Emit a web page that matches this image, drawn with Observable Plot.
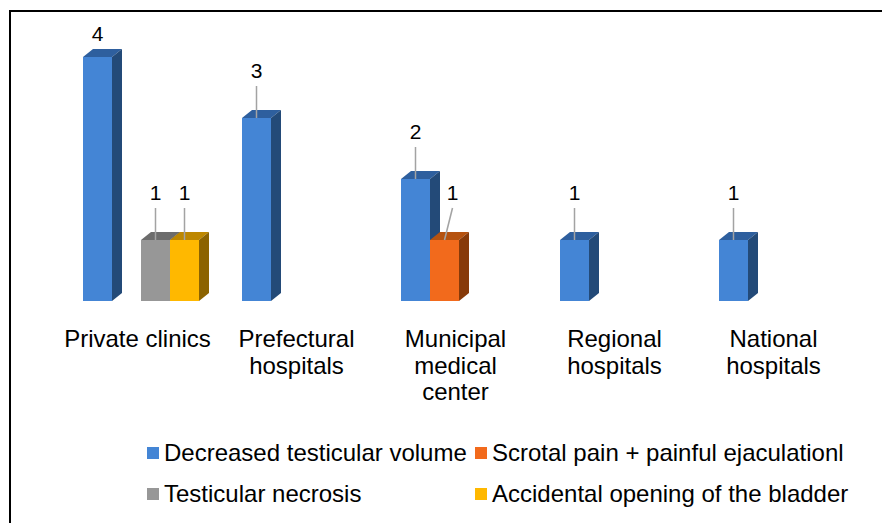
<!DOCTYPE html>
<html>
<head>
<meta charset="utf-8">
<script src="https://cdn.jsdelivr.net/npm/d3@7"></script>
<script src="https://cdn.jsdelivr.net/npm/@observablehq/plot@0.6"></script>
<style>
  html, body { margin: 0; padding: 0; background: #fff; overflow: hidden; }
  body { width: 882px; height: 523px; position: relative; font-family: "Liberation Sans", Arial, sans-serif; }
  #chart { position: absolute; left: 0; top: 0; }
  #frame { position: absolute; left: 9px; top: 10px; width: 1000px; height: 1000px;
           border-left: 2px solid #000; border-top: 2px solid #000; pointer-events: none; }
  .legend-item { position: absolute; display: flex; align-items: center; height: 30px;
                 font-size: 24px; line-height: 1; color: #000; white-space: nowrap; }
  .legend-swatch { width: 12px; height: 12px; margin-right: 5px; flex: none; }
</style>
</head>
<body>
<div id="chart"></div>
<div id="legend"></div>
<div id="frame"></div>
<script>
// Hospital categories and their axis labels (line breaks as shown under the bars)
const categories = ["Private clinics", "Prefectural hospitals", "Municipal medical center", "Regional hospitals", "National hospitals"];
const categoryLabels = ["Private clinics", "Prefectural\nhospitals", "Municipal\nmedical\ncenter", "Regional\nhospitals", "National\nhospitals"];

// Complication series
const series = ["Decreased testicular volume", "Scrotal pain + painful ejaculationl", "Testicular necrosis", "Accidental opening of the bladder"];

// Number of cases per category, one array per series
const decreasedVolume = [4, 3, 2, 1, 1];
const scrotalPain     = [0, 0, 1, 0, 0];
const necrosis        = [1, 0, 0, 0, 0];
const bladderOpening  = [1, 0, 0, 0, 0];
const seriesValues = [decreasedVolume, scrotalPain, necrosis, bladderOpening];

// Face colours for each series: front, top, side
const frontColors = ["#4485d5", "#f26a1c", "#979797", "#ffb800"];
const topColors   = ["#2e5f9e", "#b5520f", "#6c6c6c", "#bd8700"];
const sideColors  = ["#234a78", "#873a09", "#555555", "#8c6300"];

const yDomain = [0, 4];

// Long-format rows; empty cells produce no bar
const rows = categories.flatMap((category, ci) =>
  series.map((s, si) => ({category, series: s, value: seriesValues[si][ci]}))
).filter(d => d.value > 0);

const depthX = 10, depthY = 8;
const svgNS = "http://www.w3.org/2000/svg";

function polygon(points, fill) {
  const p = document.createElementNS(svgNS, "polygon");
  p.setAttribute("points", points.map(q => q.join(",")).join(" "));
  p.setAttribute("fill", fill);
  return p;
}

// Extrude each bar into a box (top and right faces) and add its value label
function bars3d(index, scales, values, dimensions, context, next) {
  const g = next(index, scales, values, dimensions, context);
  const rects = Array.from(g.querySelectorAll("rect"));
  const labelLayer = document.createElementNS(svgNS, "g");
  let prev = null;
  rects.forEach((rect, k) => {
    const d = rows[index[k]];
    const si = series.indexOf(d.series);
    const x0 = +rect.getAttribute("x"), w = +rect.getAttribute("width");
    const y0 = +rect.getAttribute("y"), h = +rect.getAttribute("height");
    const x1 = x0 + w, yb = y0 + h;
    const top = polygon([[x0, y0], [x0 + depthX, y0 - depthY], [x1 + depthX, y0 - depthY], [x1, y0]], topColors[si]);
    const side = polygon([[x1, y0], [x1 + depthX, y0 - depthY], [x1 + depthX, yb - depthY], [x1, yb]], sideColors[si]);
    rect.after(top, side);

    // a label next to a taller neighbour's side face is nudged right
    const cx = x0 + w / 2;
    const nudged = prev && Math.abs(prev.x1 - x0) < 0.5 && prev.y0 < y0 - depthY;
    const lx = nudged ? cx + 8 : cx;
    const baseline = Math.max(y0 - 40, 41);
    if (y0 - (baseline + 7) > 12) {
      const line = document.createElementNS(svgNS, "line");
      line.setAttribute("x1", lx); line.setAttribute("x2", cx);
      line.setAttribute("y1", baseline + 8); line.setAttribute("y2", y0);
      line.setAttribute("stroke", "#a3a3a3");
      line.setAttribute("stroke-width", 1.5);
      labelLayer.appendChild(line);
    }
    const t = document.createElementNS(svgNS, "text");
    t.setAttribute("x", lx);
    t.setAttribute("y", baseline);
    t.setAttribute("text-anchor", "middle");
    t.setAttribute("font-size", 21);
    t.setAttribute("fill", "#000");
    t.textContent = d.value;
    labelLayer.appendChild(t);
    prev = {x1, y0};
  });
  g.appendChild(labelLayer);
  return g;
}

const chart = Plot.plot({
  width: 882,
  height: 425,
  marginTop: 57,
  marginBottom: 124,
  marginLeft: 61,
  marginRight: 25,
  style: {background: "transparent", fontFamily: "'Liberation Sans', Arial, sans-serif", color: "#000"},
  fx: {domain: categories, paddingInner: 0.271, paddingOuter: 0.1355, axis: null, label: null},
  x: {domain: series, padding: 0, axis: null, label: null},
  y: {domain: yDomain, axis: null, label: null},
  marks: [
    Plot.barY(rows, {
      fx: "category",
      x: "series",
      y: "value",
      fill: d => frontColors[series.indexOf(d.series)],
      render: bars3d
    }),
    Plot.text(categories, {
      fx: d => d,
      text: (d, i) => categoryLabels[i],
      frameAnchor: "bottom",
      lineAnchor: "top",
      lineHeight: 1.1,
      dy: 27,
      dx: -4,
      fontSize: 24,
      fill: "#000"
    })
  ]
});
document.getElementById("chart").appendChild(chart);

// Legend: two columns, two rows
const legendPos = [[147, 438], [475, 438], [147, 479], [475, 479]];
const legend = d3.select("#legend");
series.forEach((s, i) => {
  const item = legend.append("div").attr("class", "legend-item")
    .style("left", legendPos[i][0] + "px").style("top", legendPos[i][1] + "px");
  item.append("div").attr("class", "legend-swatch").style("background", frontColors[i]);
  item.append("span").text(s);
});
</script>
</body>
</html>
